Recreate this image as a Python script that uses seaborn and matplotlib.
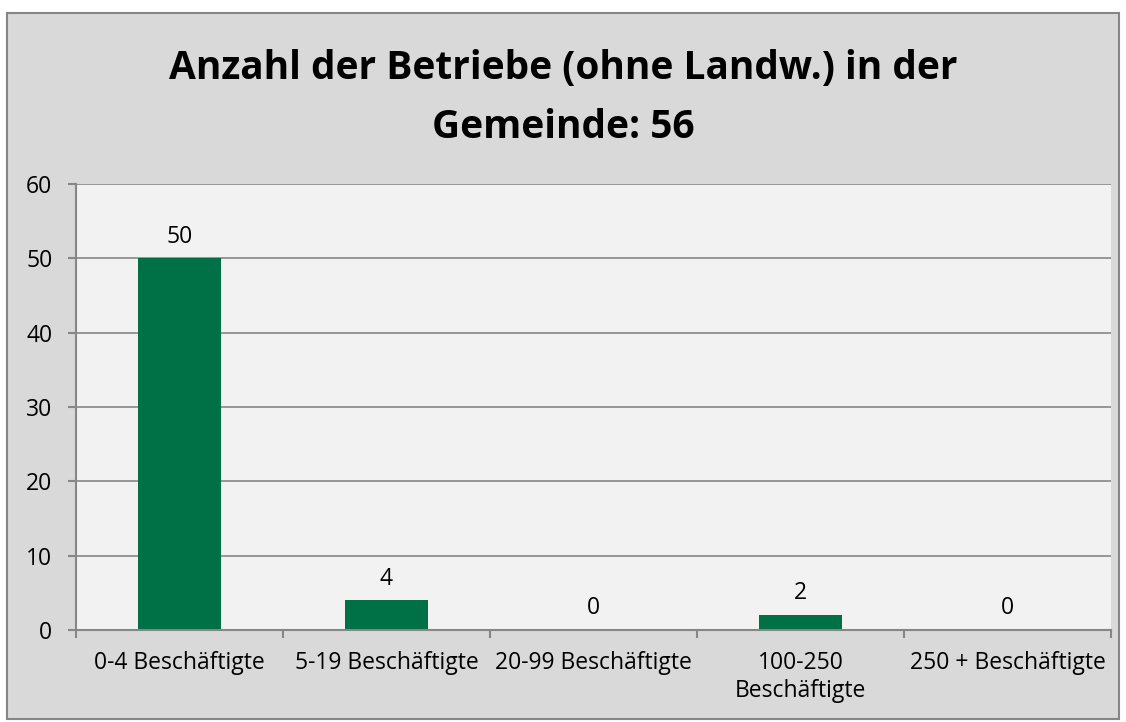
import matplotlib
matplotlib.use("Agg")
import matplotlib.pyplot as plt
import seaborn as sns
import pandas as pd
from matplotlib.patches import Rectangle

categories = ["0-4 Beschäftigte", "5-19 Beschäftigte", "20-99 Beschäftigte",
              "100-250 Beschäftigte", "250 + Beschäftigte"]
tick_labels = ["0-4 Beschäftigte", "5-19 Beschäftigte", "20-99 Beschäftigte",
               "100-250\nBeschäftigte", "250 + Beschäftigte"]
values = [50, 4, 0, 2, 0]
title = "Anzahl der Betriebe (ohne Landw.) in der\nGemeinde: 56"

sns.set_style("white")
plt.rcParams["font.family"] = ["Open Sans", "DejaVu Sans"]

W, H = 1126, 722
fig = plt.figure(figsize=(W / 100, H / 100), dpi=100)
fig.patch.set_facecolor("white")
bg = Rectangle((7 / W, 1 - 719 / H), (1119 - 7) / W, (719 - 13) / H,
               transform=fig.transFigure, facecolor="#d9d9d9",
               edgecolor="#868686", linewidth=1.5, zorder=-10)
fig.patches.append(bg)

ax = fig.add_axes([76 / W, 1 - 630 / H, 1035 / W, 446 / H])
ax.set_zorder(1)
ax.set_facecolor("#f2f2f2")

df = pd.DataFrame({"cat": categories, "val": values})
sns.barplot(data=df, x="cat", y="val", color="#007046", width=0.4, ax=ax,
            saturation=1, edgecolor="none")

ax.set_xlim(-0.5, 4.5)
ax.set_ylim(0, 60)
ax.set_yticks(range(0, 61, 10))
ax.grid(axis="y", color="#868686", linewidth=1.2)
ax.set_axisbelow(True)
for s in ["top", "right"]:
    ax.spines[s].set_visible(False)
for s in ["left", "bottom"]:
    ax.spines[s].set_color("#868686")
    ax.spines[s].set_linewidth(1.5)

FS = 16.5
ax.set_xticks(range(5))
ax.set_xticklabels(tick_labels, fontsize=FS, color="black", linespacing=1.25)
ax.tick_params(axis="x", which="major", length=0, pad=15)
ax.set_xticks([-0.5, 0.5, 1.5, 2.5, 3.5, 4.5], minor=True)
ax.tick_params(axis="x", which="minor", length=6, width=1.5, color="#868686", direction="out", bottom=True)
ax.tick_params(axis="y", length=6, width=1.5, color="#868686", direction="out", left=True,
               labelsize=FS, pad=11)
for lab in ax.get_yticklabels():
    lab.set_color("black")

ax.set_xlabel("")
ax.set_ylabel("")

for c in ax.containers:
    ax.bar_label(c, labels=[str(v) for v in values], padding=7, fontsize=FS, color="black")

fig.text(0.5, 1 - 98 / H, title, ha="center", va="center", fontsize=28,
         fontweight="bold", linespacing=1.7, color="black")

fig.savefig("out.png", dpi=100)
